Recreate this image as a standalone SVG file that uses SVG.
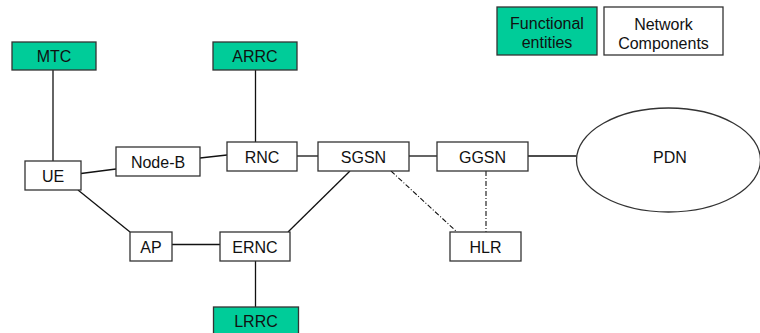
<svg xmlns="http://www.w3.org/2000/svg" width="760" height="333" viewBox="0 0 760 333">
  <style>
    .box { fill: #ffffff; stroke: #333333; stroke-width: 1.3; }
    .fe { fill: #00cc99; stroke: #333333; stroke-width: 1.3; }
    .lbl { font-family: "Liberation Sans", Arial, sans-serif; font-size: 16px; fill: #111111; text-anchor: middle; }
    .link { stroke: #111111; stroke-width: 1.3; fill: none; }
    .sig { stroke: #111111; stroke-width: 1.1; fill: none; stroke-dasharray: 5 2 1 2; }
  </style>

  <!-- connectors -->
  <g id="connectors">
    <line class="link" x1="53" y1="70" x2="53" y2="161"/>
    <line class="link" x1="81" y1="173.5" x2="116" y2="169"/>
    <line class="link" x1="200" y1="158" x2="227" y2="155"/>
    <line class="link" x1="255.5" y1="70" x2="255.5" y2="142"/>
    <line class="link" x1="297" y1="156" x2="318" y2="156"/>
    <line class="link" x1="409" y1="156" x2="437" y2="156"/>
    <line class="link" x1="528" y1="156" x2="576.5" y2="156"/>
    <line class="link" x1="78" y1="190" x2="130" y2="232"/>
    <line class="link" x1="172" y1="244.5" x2="220" y2="244.5"/>
    <line class="link" x1="350" y1="171" x2="288" y2="232"/>
    <line class="link" x1="255.5" y1="261" x2="255.5" y2="307"/>
    <line class="sig" x1="391" y1="171" x2="457" y2="232"/>
    <line class="sig" x1="486" y1="171" x2="486" y2="232"/>
  </g>

  <!-- legend -->
  <g id="legend-functional">
    <rect class="fe" x="497" y="7" width="100" height="48"/>
    <text class="lbl" x="547" y="29">Functional</text>
    <text class="lbl" x="547" y="48">entities</text>
  </g>
  <g id="legend-network">
    <rect class="box" x="604" y="7" width="119" height="48"/>
    <text class="lbl" x="663.5" y="30">Network</text>
    <text class="lbl" x="663.5" y="48.5">Components</text>
  </g>

  <!-- functional entities -->
  <g id="MTC">
    <rect class="fe" x="12" y="42" width="84" height="28"/>
    <text class="lbl" x="54" y="62">MTC</text>
  </g>
  <g id="ARRC">
    <rect class="fe" x="213" y="42" width="84" height="28"/>
    <text class="lbl" x="255" y="62">ARRC</text>
  </g>
  <g id="LRRC">
    <rect class="fe" x="213.5" y="307" width="85" height="30"/>
    <text class="lbl" x="256" y="327">LRRC</text>
  </g>

  <!-- network components -->
  <g id="UE">
    <rect class="box" x="25" y="161" width="56" height="29"/>
    <text class="lbl" x="53" y="181.5">UE</text>
  </g>
  <g id="Node-B">
    <rect class="box" x="116" y="147" width="84" height="29"/>
    <text class="lbl" x="158" y="167.5">Node-B</text>
  </g>
  <g id="RNC">
    <rect class="box" x="227" y="142" width="70" height="29"/>
    <text class="lbl" x="262" y="162.5">RNC</text>
  </g>
  <g id="SGSN">
    <rect class="box" x="318" y="142" width="91" height="29"/>
    <text class="lbl" x="363.5" y="162.5">SGSN</text>
  </g>
  <g id="GGSN">
    <rect class="box" x="437" y="142" width="91" height="29"/>
    <text class="lbl" x="482.5" y="162.5">GGSN</text>
  </g>
  <g id="PDN">
    <ellipse class="box" cx="668.5" cy="160" rx="92" ry="52"/>
    <text class="lbl" x="670" y="162.5">PDN</text>
  </g>
  <g id="AP">
    <rect class="box" x="130" y="232" width="42" height="29"/>
    <text class="lbl" x="151" y="252.5">AP</text>
  </g>
  <g id="ERNC">
    <rect class="box" x="220" y="232" width="70" height="29"/>
    <text class="lbl" x="255" y="252.5">ERNC</text>
  </g>
  <g id="HLR">
    <rect class="box" x="450" y="232" width="71" height="29"/>
    <text class="lbl" x="485.5" y="252.5">HLR</text>
  </g>
</svg>
